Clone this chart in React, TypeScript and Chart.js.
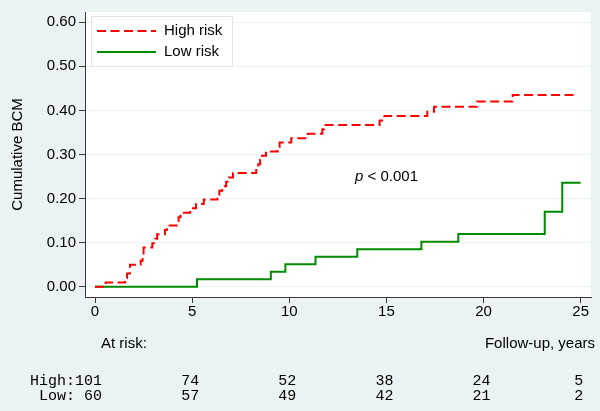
import React, { useEffect, useRef } from "react";
import { Chart, registerables } from "chart.js";

Chart.register(...registerables);

// ---- Data ----
const seriesLabels = ["High risk", "Low risk"];

const highTimes = [
  0, 0.55, 1.55, 1.65, 1.8, 2.35, 2.45, 2.5, 2.95, 3.1, 3.2, 3.6, 3.7, 4.2, 4.3,
  4.4, 4.9, 5.2, 5.6, 6.3, 6.4, 6.55, 6.75, 6.9, 7.1, 8.3, 8.4, 8.5, 8.6, 8.8,
  9.4, 9.5, 10.1, 10.95, 11.7, 11.8, 14.65, 14.9, 17.1, 17.45, 19.65, 21.5, 24.8,
];
const highRisk = [
  0, 0.01, 0.02, 0.03, 0.05, 0.059, 0.069, 0.089, 0.099, 0.109, 0.119, 0.129,
  0.139, 0.149, 0.158, 0.168, 0.178, 0.188, 0.198, 0.208, 0.218, 0.228, 0.238,
  0.248, 0.258, 0.268, 0.278, 0.288, 0.297, 0.307, 0.317, 0.327, 0.337, 0.347,
  0.357, 0.367, 0.377, 0.387, 0.397, 0.408, 0.42, 0.435, 0.435,
];

const lowTimes = [0, 5.25, 9.05, 9.8, 11.35, 13.5, 16.8, 18.7, 23.15, 24.05, 25.0];
const lowRisk = [0, 0.017, 0.034, 0.051, 0.068, 0.085, 0.102, 0.12, 0.17, 0.236, 0.236];

const xTicks = [0, 5, 10, 15, 20, 25];
const yTicks = [0, 0.1, 0.2, 0.3, 0.4, 0.5, 0.6];

const atRiskHigh = [101, 74, 52, 38, 24, 5];
const atRiskLow = [60, 57, 49, 42, 21, 2];
const atRiskRowLabels = ["High:", " Low:"];

const yTitle = "Cumulative BCM";
const xTitle = "Follow-up, years";
const atRiskTitle = "At risk:";
const pSymbol = "p";
const pText = " < 0.001";

// ---- Styles ----
const BG = "rgb(234,242,243)";
const GRID = "rgb(234,242,243)";
const AXIS = "#3a3a3a";
const TEXT = "#000";
const SANS = "'Liberation Sans', Arial, Helvetica, sans-serif";
const MONO = "'Liberation Mono', 'Courier New', monospace";
const RED = "#ff0000";
const GREEN = "#008a00";

const decor = {
  id: "statadecor",
  beforeDraw(chart: any) {
    const { ctx, chartArea: a } = chart;
    ctx.save();
    ctx.fillStyle = BG;
    ctx.fillRect(0, 0, chart.width, chart.height);
    ctx.fillStyle = "#fff";
    ctx.fillRect(a.left, a.top, a.right - a.left, a.bottom - a.top);
    ctx.restore();
  },
  afterDraw(chart: any) {
    const { ctx } = chart;
    const xs = chart.scales.x;
    ctx.save();

    // Legend box
    const lx = 91, ly = 16, lw = 141, lh = 50;
    ctx.fillStyle = "#fff";
    ctx.fillRect(lx, ly, lw, lh);
    ctx.strokeStyle = "#dfe6e8";
    ctx.lineWidth = 1;
    ctx.strokeRect(lx + 0.5, ly + 0.5, lw, lh);
    chart.data.datasets.forEach((ds: any, i: number) => {
      const y = 31 + i * 21;
      ctx.beginPath();
      ctx.strokeStyle = ds.borderColor;
      ctx.lineWidth = ds.borderWidth;
      ctx.setLineDash(ds.borderDash || []);
      ctx.moveTo(97, y);
      ctx.lineTo(156, y);
      ctx.stroke();
      ctx.setLineDash([]);
      ctx.fillStyle = TEXT;
      ctx.font = `15px ${SANS}`;
      ctx.textAlign = "left";
      ctx.textBaseline = "middle";
      ctx.fillText(ds.label, 164, y);
    });

    // p-value annotation
    ctx.fillStyle = TEXT;
    ctx.textBaseline = "middle";
    ctx.textAlign = "left";
    ctx.font = `italic 15px ${SANS}`;
    ctx.fillText(pSymbol, 355, 177);
    const pw = ctx.measureText(pSymbol).width;
    ctx.font = `15px ${SANS}`;
    ctx.fillText(pText, 355 + pw, 177);

    // Titles under the axis
    ctx.font = `15px ${SANS}`;
    ctx.textAlign = "left";
    ctx.fillText(atRiskTitle, 101, 344);
    ctx.textAlign = "right";
    ctx.fillText(xTitle, 595, 344);

    // At-risk table
    ctx.font = `15px ${MONO}`;
    const rows = [atRiskHigh, atRiskLow];
    rows.forEach((row, r) => {
      const y = 381 + r * 15;
      ctx.textAlign = "left";
      ctx.fillText(atRiskRowLabels[r] + String(row[0]).padStart(3, " "), 30, y);
      ctx.textAlign = "center";
      for (let i = 1; i < row.length; i++) {
        const px = xs.getPixelForValue(xTicks[i]) - 2;
        ctx.fillText(String(row[i]), px, y);
      }
    });

    ctx.restore();
  },
};

export default function App() {
  const ref = useRef<HTMLCanvasElement | null>(null);

  useEffect(() => {
    if (!ref.current) return;
    const chart = new Chart(ref.current, {
      type: "line",
      data: {
        datasets: [
          {
            label: seriesLabels[0],
            data: highTimes.map((t, i) => ({ x: t, y: highRisk[i] })),
            borderColor: RED,
            borderWidth: 2,
            borderDash: [9, 4.5],
            stepped: "before",
            pointRadius: 0,
            fill: false,
          },
          {
            label: seriesLabels[1],
            data: lowTimes.map((t, i) => ({ x: t, y: lowRisk[i] })),
            borderColor: GREEN,
            borderWidth: 2,
            stepped: "before",
            pointRadius: 0,
            fill: false,
          },
        ],
      },
      options: {
        responsive: false,
        animation: false,
        devicePixelRatio: 1,
        layout: { padding: { top: 10, right: 9, left: 0, bottom: 0 } },
        plugins: {
          legend: { display: false },
          tooltip: { enabled: false },
        },
        scales: {
          x: {
            type: "linear",
            min: -0.515,
            max: 25.53,
            afterBuildTicks: (s: any) => {
              s.ticks = xTicks.map((v) => ({ value: v }));
            },
            afterFit: (s: any) => {
              s.height = 114;
            },
            grid: {
              drawOnChartArea: false,
              drawTicks: true,
              tickLength: 6,
              tickColor: AXIS,
              tickWidth: 1,
            },
            border: { display: true, color: AXIS, width: 1 },
            ticks: {
              padding: 0,
              color: TEXT,
              font: { family: SANS, size: 15 },
              maxRotation: 0,
              autoSkip: false,
              callback: (v: any) => String(v),
            },
          },
          y: {
            type: "linear",
            min: -0.023,
            max: 0.623,
            afterBuildTicks: (s: any) => {
              s.ticks = yTicks.map((v) => ({ value: v }));
            },
            afterFit: (s: any) => {
              s.width = 85;
            },
            grid: {
              color: GRID,
              lineWidth: 1,
              drawTicks: true,
              tickLength: 6,
              tickColor: AXIS,
              tickWidth: 1,
            },
            border: { display: true, color: AXIS, width: 1 },
            ticks: {
              padding: 3,
              color: TEXT,
              font: { family: SANS, size: 15 },
              autoSkip: false,
              callback: (v: any) => Number(v).toFixed(2),
            },
            title: {
              display: true,
              text: yTitle,
              color: TEXT,
              font: { family: SANS, size: 15 },
              padding: { top: 9, bottom: 0 },
            },
          },
        },
      },
      plugins: [decor],
    });
    return () => chart.destroy();
  }, []);

  return (
    <div style={{ position: "absolute", left: 0, top: 0, width: 600, height: 411 }}>
      <canvas ref={ref} width={600} height={411} style={{ display: "block" }} />
    </div>
  );
}
